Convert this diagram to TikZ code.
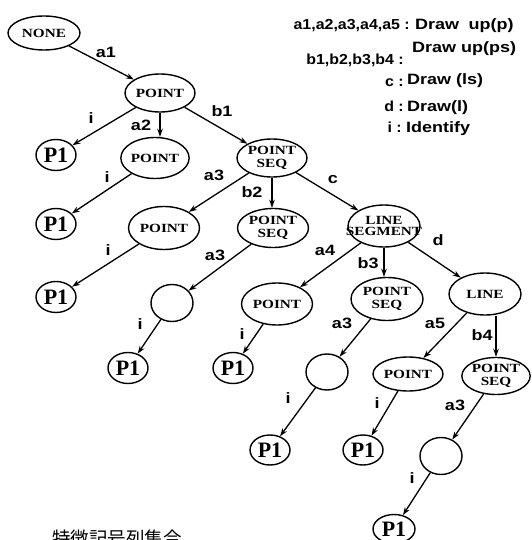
\documentclass[tikz,border=0pt]{standalone}
\usepackage{fontspec}
\setmainfont{Liberation Serif}
\newfontfamily\nodefont[FakeStretch=1.22]{Liberation Serif}
\newfontfamily\pfont{Liberation Serif}
\newfontfamily\lblfont[FakeStretch=1.2]{Liberation Sans}
\newfontfamily\keyfont[FakeStretch=1.1]{Liberation Sans}
\newfontfamily\cjk{Noto Sans CJK JP}
\usetikzlibrary{shapes.geometric,arrows.meta}
\tikzset{
  ell/.style={ellipse, draw, line width=1.4pt, inner sep=0pt, align=center,
    font=\nodefont\bfseries\fontsize{12.5}{13}\selectfont},
  ntxt/.style={inner sep=0pt, align=center, font=\nodefont\bfseries\fontsize{12.5}{11}\selectfont},
  pone/.style={ellipse, draw, line width=1.4pt, inner sep=0pt, minimum width=40pt,
    minimum height=31pt, font=\pfont\bfseries\fontsize{22}{22}\selectfont},
  emp/.style={ellipse, draw, line width=1.4pt, inner sep=0pt, minimum width=42pt, minimum height=37pt},
  edge/.style={line width=1.3pt, -{Stealth[length=8pt,width=5.5pt]}},
  lbl/.style={inner sep=0pt, font=\lblfont\bfseries\fontsize{15}{15}\selectfont},
  key/.style={inner sep=0pt, font=\keyfont\bfseries\fontsize{14.5}{14.5}\selectfont},
  val/.style={inner sep=0pt, font=\lblfont\bfseries\fontsize{15}{15}\selectfont},
}
\begin{document}
\begin{tikzpicture}[x=1pt,y=-1pt]
\useasboundingbox (0,0) rectangle (531,540);
\clip (0,0) rectangle (531,540);

% level 0-1
\node[ell, minimum width=72pt, minimum height=34pt] (none) at (44,33) {NONE};
\node[ell, minimum width=70pt, minimum height=38pt] (pt1) at (160,93) {POINT};
% level 2
\node[pone] (p1a) at (56,155) {P1};
\node[ell, minimum width=60pt, minimum height=41pt] (pt2) at (155,158) {POINT};
\node[ell, minimum width=70pt, minimum height=38pt] (ps2) at (272,158) {POINT\\SEQ};
% level 3
\node[pone] (p1b) at (56,224) {P1};
\node[ell, minimum width=71pt, minimum height=43pt] (pt3) at (164,228) {POINT};
\node[ell, minimum width=71pt, minimum height=39pt] (ps3) at (273,228) {POINT\\SEQ};
\node[ell, minimum width=72pt, minimum height=42pt,
  label={[ntxt]center:{LINE\\SEGMENT}}] (ls3) at (384,226) {};
% level 4
\node[pone] (p1c) at (56,297) {P1};
\node[emp] (e4) at (172,303) {};
\node[ell, minimum width=71pt, minimum height=42pt] (pt4) at (277,304) {POINT};
\node[ell, minimum width=72pt, minimum height=43pt] (ps4) at (387,299) {POINT\\SEQ};
\node[ell, minimum width=72pt, minimum height=42pt] (ln4) at (485,294) {LINE};
% level 5
\node[pone] (p1d) at (128,368) {P1};
\node[pone] (p1e) at (233,368) {P1};
\node[emp, minimum height=36pt] (e5) at (327,372) {};
\node[ell, minimum width=70pt, minimum height=34pt] (pt5) at (408,374) {POINT};
\node[ell, minimum width=68pt, minimum height=37pt] (ps5) at (496,376) {POINT\\SEQ};
% level 6
\node[pone, minimum height=30pt] (p1f) at (270,450) {P1};
\node[pone, minimum height=30pt] (p1g) at (363,450) {P1};
\node[emp] (e6) at (441,456) {};
% level 7
\node[pone, minimum width=42pt, minimum height=29pt] (p1h) at (394,529) {P1};

% edges
\draw[edge] (none) -- (pt1);
\draw[edge] (pt1) -- (p1a);
\draw[edge] (pt1.south) -- (pt1.south |- pt2.north);
\draw[edge] (pt1) -- (ps2);
\draw[edge] (pt2) -- (p1b);
\draw[edge] (ps2) -- (pt3);
\draw[edge] (ps2.south) -- (ps2.south |- ps3.north);
\draw[edge] (ps2) -- (ls3);
\draw[edge] (pt3) -- (p1c);
\draw[edge] (ps3) -- (e4);
\draw[edge] (ls3) -- (pt4);
\draw[edge] (ls3.south) -- (ls3.south |- ps4.north);
\draw[edge] (ls3) -- (ln4);
\draw[edge] (e4) -- (p1d);
\draw[edge] (pt4) -- (p1e);
\draw[edge] (ps4) -- (e5);
\draw[edge] (ln4) -- (pt5);
\draw[edge] (ln4.south -| ps5.north) -- (ps5.north);
\draw[edge] (e5) -- (p1f);
\draw[edge] (pt5) -- (p1g);
\draw[edge] (ps5) -- (e6);
\draw[edge] (e6) -- (p1h);

% edge labels
\node[lbl] (la1) at (106,52) {a1};
\node[lbl] (li1) at (91,118) {i};
\node[lbl] (la2) at (141,125) {a2};
\node[lbl] (lb1) at (222,111) {b1};
\node[lbl] (li2) at (107,177) {i};
\node[lbl] (la3a) at (214,175) {a3};
\node[lbl] (lb2) at (252,192) {b2};
\node[lbl] (lc) at (333,180) {c};
\node[lbl] (li3) at (108,250) {i};
\node[lbl] (la3b) at (215,255) {a3};
\node[lbl] (la4) at (325,250) {a4};
\node[lbl] (lb3) at (368,263) {b3};
\node[lbl] (ld) at (438,240) {d};
\node[lbl] (li4) at (140,324) {i};
\node[lbl] (li5) at (242,334) {i};
\node[lbl] (la3c) at (342,323) {a3};
\node[lbl] (la5) at (435,323) {a5};
\node[lbl] (lb4) at (482,335) {b4};
\node[lbl] (li6) at (288,398) {i};
\node[lbl] (li7) at (377,403) {i};
\node[lbl] (la3d) at (455,405) {a3};
\node[lbl] (li8) at (412,478) {i};

% legend
\node[key, anchor=base east] (k1) at (410,30) {a1,a2,a3,a4,a5 :};
\node[val, anchor=base west] (v1) at (415,30) {Draw\hspace{0.3em} up(p)};
\node[key, anchor=base east] (k2) at (404,65) {b1,b2,b3,b4 :};
\node[val, anchor=base west] (v2) at (412,53) {Draw up(ps)};
\node[key, anchor=base east] (k3) at (404,87) {c :};
\node[val, anchor=base west] (v3) at (407,85) {Draw (ls)};
\node[key, anchor=base east] (k4) at (404,112) {d :};
\node[val, anchor=base west] (v4) at (407,112) {Draw(l)};
\node[key, anchor=base east] (k5) at (402,133) {i :};
\node[val, anchor=base west] (v5) at (406,133) {Identify};

% caption (cut off at the bottom edge, as in the reference)
\node[anchor=base west, inner sep=0pt, font=\cjk\fontsize{18.5}{18.5}\selectfont] (cap) at (52,545) {特徴記号列集合};
\end{tikzpicture}
\end{document}
